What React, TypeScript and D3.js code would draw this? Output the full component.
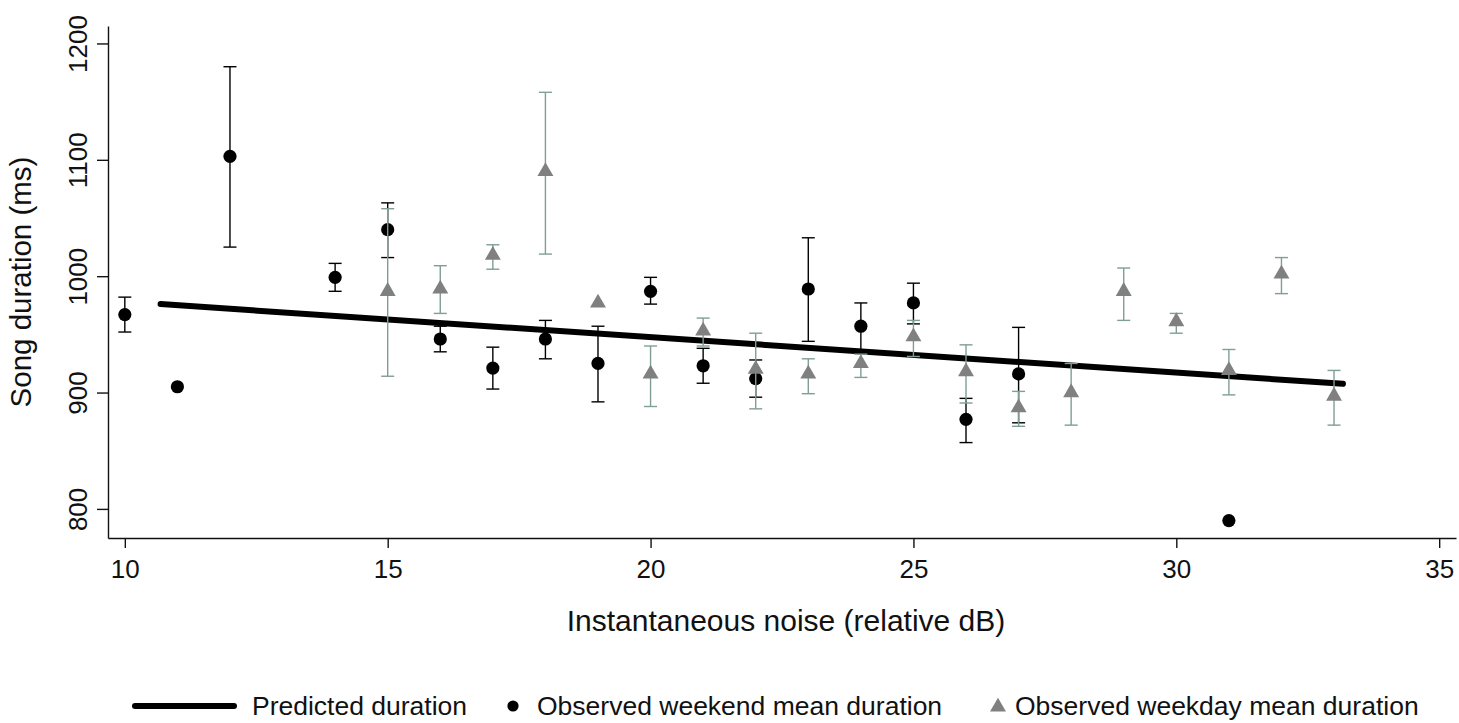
import React, { useEffect, useRef } from "react";
import * as d3 from "d3";

// Weekend (circles)
const weekendNoise = [10, 11, 12, 14, 15, 16, 17, 18, 19, 20, 21, 22, 23, 24, 25, 26, 27, 31];
const weekendMean = [967, 905, 1103, 999, 1040, 946, 921, 946, 925, 987, 923, 912, 989, 957, 977, 877, 916, 790];
const weekendLow: (number | null)[] = [952, null, 1025, 987, 1016, 935, 903, 929, 892, 976, 908, 896, 944, 935, 959, 857, 874, null];
const weekendHigh: (number | null)[] = [982, null, 1180, 1011, 1063, 957, 939, 962, 957, 999, 938, 928, 1033, 977, 994, 895, 956, null];

// Weekday (triangles)
const weekdayNoise = [15, 16, 17, 18, 19, 20, 21, 22, 23, 24, 25, 26, 27, 28, 29, 30, 31, 32, 33];
const weekdayMean = [987, 989, 1018, 1090, 977, 916, 953, 920, 916, 925, 948, 918, 887, 900, 987, 961, 919, 1002, 897];
const weekdayLow: (number | null)[] = [914, 968, 1006, 1019, null, 888, 940, 886, 899, 913, 931, 891, 871, 872, 962, 951, 898, 985, 872];
const weekdayHigh: (number | null)[] = [1058, 1009, 1027, 1158, null, 940, 964, 951, 929, 933, 962, 941, 901, 925, 1007, 968, 937, 1016, 919];

// Predicted regression line
const predictedNoise = [10.68, 33.17];
const predictedDuration = [976, 907.5];

const xTicks = [10, 15, 20, 25, 30, 35];
const yTicks = [800, 900, 1000, 1100, 1200];

const xTitle = "Instantaneous noise (relative dB)";
const yTitle = "Song duration (ms)";
const legendLabels = ["Predicted duration", "Observed weekend mean duration", "Observed weekday mean duration"];

const W = 1459;
const H = 723;
const FONT = "'Liberation Sans', Arial, Helvetica, sans-serif";
const TRI_FILL = "#808080";
const TRI_BAR = "#7f9e95";

export default function App() {
  const xAxisRef = useRef<SVGGElement>(null);
  const yAxisRef = useRef<SVGGElement>(null);

  const x = d3.scaleLinear().domain([9.68, 35.32]).range([108, 1456]);
  const y = d3.scaleLinear().domain([775, 1215]).range([538, 26]);

  useEffect(() => {
    const gx = d3.select(xAxisRef.current!);
    gx.call(d3.axisBottom(x).tickValues(xTicks).tickSize(10).tickSizeOuter(0).tickPadding(12).tickFormat(d3.format("d")) as any);
    gx.select(".domain").attr("stroke", "#111").attr("stroke-width", 1.4);
    gx.selectAll(".tick line").attr("stroke", "#111").attr("stroke-width", 1.4);
    gx.selectAll(".tick text").attr("font-family", FONT).attr("font-size", 26).attr("fill", "#111").attr("dy", "0.71em");

    const gy = d3.select(yAxisRef.current!);
    gy.call(d3.axisLeft(y).tickValues(yTicks).tickSize(11).tickSizeOuter(0).tickFormat(d3.format("d")) as any);
    gy.select(".domain").attr("stroke", "#111").attr("stroke-width", 1.4);
    gy.selectAll(".tick line").attr("stroke", "#111").attr("stroke-width", 1.4);
    gy.selectAll(".tick text")
      .attr("font-family", FONT)
      .attr("font-size", 26)
      .attr("fill", "#111")
      .attr("x", null)
      .attr("dy", null)
      .attr("text-anchor", "middle")
      .attr("transform", "translate(-21,0) rotate(-90)");
  }, []);

  const line = d3
    .line<number>()
    .x((d) => x(d))
    .y((_, i) => y(predictedDuration[i]));

  const tri = d3.symbol().type(d3.symbolTriangle).size(110);
  const triPath = tri() as string;
  const capW = 6.5;

  return (
    <svg width={W} height={H} style={{ position: "absolute", left: 0, top: 0, background: "#fff" }}>
      <rect width={W} height={H} fill="#fff" />
      <g ref={xAxisRef} transform={`translate(0,538)`} />
      <g ref={yAxisRef} transform={`translate(108,0)`} />

      {/* predicted line */}
      <path d={line(predictedNoise) as string} stroke="#000" strokeWidth={6} fill="none" strokeLinecap="round" />

      {/* weekend error bars */}
      {weekendNoise.map((n, i) =>
        weekendLow[i] == null ? null : (
          <g key={"we" + i} stroke="#000" strokeWidth={1.4}>
            <line x1={x(n)} x2={x(n)} y1={y(weekendLow[i]!)} y2={y(weekendHigh[i]!)} />
            <line x1={x(n) - capW} x2={x(n) + capW} y1={y(weekendLow[i]!)} y2={y(weekendLow[i]!)} />
            <line x1={x(n) - capW} x2={x(n) + capW} y1={y(weekendHigh[i]!)} y2={y(weekendHigh[i]!)} />
          </g>
        )
      )}
      {weekendNoise.map((n, i) => (
        <circle key={"wc" + i} cx={x(n)} cy={y(weekendMean[i])} r={6.6} fill="#000" />
      ))}

      {/* weekday error bars */}
      {weekdayNoise.map((n, i) =>
        weekdayLow[i] == null ? null : (
          <g key={"wd" + i} stroke={TRI_BAR} strokeWidth={1.4}>
            <line x1={x(n)} x2={x(n)} y1={y(weekdayLow[i]!)} y2={y(weekdayHigh[i]!)} />
            <line x1={x(n) - capW} x2={x(n) + capW} y1={y(weekdayLow[i]!)} y2={y(weekdayLow[i]!)} />
            <line x1={x(n) - capW} x2={x(n) + capW} y1={y(weekdayHigh[i]!)} y2={y(weekdayHigh[i]!)} />
          </g>
        )
      )}
      {weekdayNoise.map((n, i) => (
        <path key={"dt" + i} d={triPath} transform={`translate(${x(n)},${y(weekdayMean[i])})`} fill={TRI_FILL} />
      ))}

      {/* axis titles */}
      <text x={786} y={631} textAnchor="middle" fontFamily={FONT} fontSize={30} fill="#111">
        {xTitle}
      </text>
      <text transform={`translate(31,${(26 + 538) / 2}) rotate(-90)`} textAnchor="middle" fontFamily={FONT} fontSize={29.5} fill="#111">
        {yTitle}
      </text>

      {/* legend */}
      <g fontFamily={FONT} fontSize={26.5} fill="#111">
        <line x1={135} x2={234} y1={706} y2={706} stroke="#000" strokeWidth={6} strokeLinecap="round" />
        <text x={252} y={715}>{legendLabels[0]}</text>
        <circle cx={513} cy={706} r={5.6} fill="#000" />
        <text x={537} y={715}>{legendLabels[1]}</text>
        <path d={triPath} transform={`translate(998,707)`} fill={TRI_FILL} />
        <text x={1015} y={715}>{legendLabels[2]}</text>
      </g>
    </svg>
  );
}
